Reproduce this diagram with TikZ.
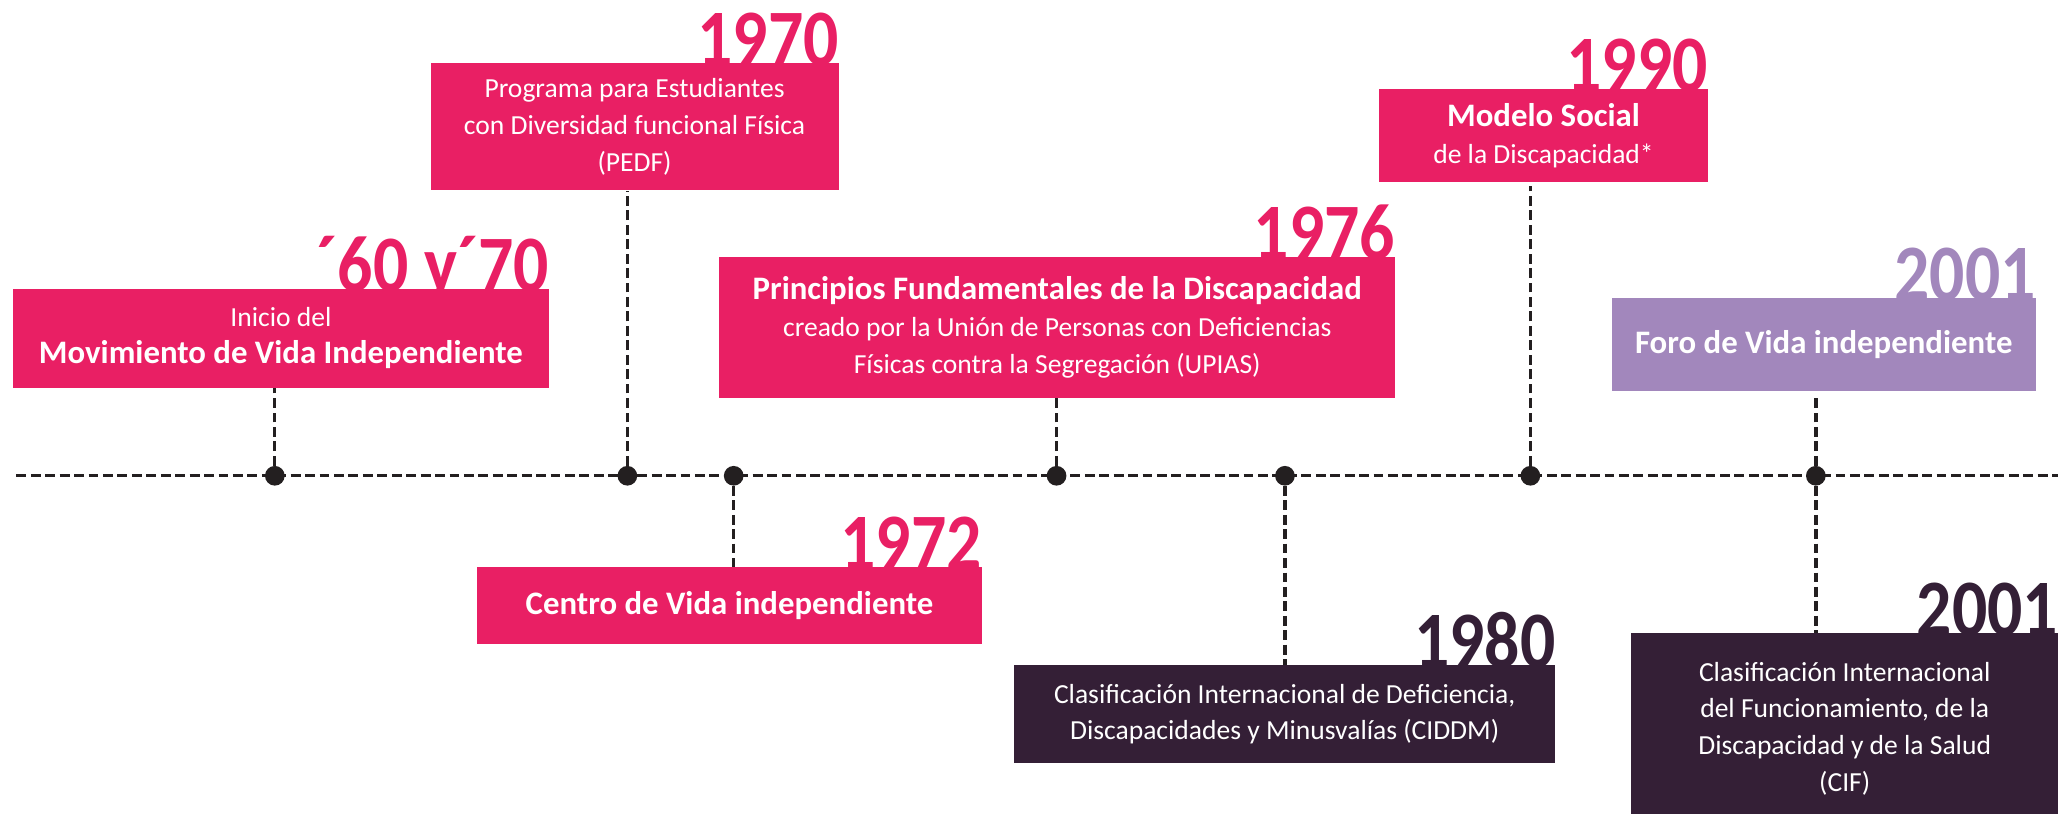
\documentclass[tikz,border=0pt]{standalone}
\usepackage{fontspec}
\setmainfont{Carlito}
\newfontfamily\fanio[FakeStretch=0.87]{Carlito}
\newcommand\tit[1]{{\fontsize{25}{28}\selectfont\bfseries #1}}
\definecolor{rosa}{HTML}{E91F64}
\definecolor{morado}{HTML}{341F36}
\definecolor{lila}{HTML}{A287BC}
\definecolor{linea}{HTML}{231F20}

\begin{document}
\begin{tikzpicture}[x=1pt,y=-1pt,
    caja/.style={fill=#1,text=white,inner sep=0pt,align=center,
      font=\fontsize{21}{28}\selectfont},
    anio/.style={text=#1,anchor=base east,inner sep=0pt,text depth=0pt,
      font=\fanio\fontsize{61}{61}\selectfont\bfseries},
    hito/.style={circle,fill=linea,inner sep=0pt,minimum size=15pt},
    guion/.style={draw=linea,line width=2.5pt,dash pattern=on 7.5pt off 3.5pt}]
    \useasboundingbox (0,0) rectangle (1568,620);
    \clip (0,0) rectangle (1568,620);
    \coordinate (ini) at (12.5,362.5);
    \coordinate (fin) at (1568,362.5);
    \draw[guion] (ini) -- (fin);

    \node[caja=rosa,minimum width=408,minimum height=75.5] (b60) at (214,257.8)
       {Inicio del\\ \tit{Movimiento de Vida Independiente}};
    \node[caja=rosa,minimum width=311,minimum height=97] (b70) at (483.5,96.5)
       {Programa para Estudiantes\\ con Diversidad funcional Física\\ (PEDF)};
    \node[caja=rosa,minimum width=384.5,minimum height=58.6] (b72) at (555.8,461.3)
       {\tit{Centro de Vida independiente}};
    \node[caja=rosa,minimum width=515,minimum height=107] (b76) at (805.5,249.5)
       {\tit{Principios Fundamentales de la Discapacidad}\\
        creado por la Unión de Personas con Deficiencias\\
        Físicas contra la Segregación (UPIAS)};
    \node[caja=morado,minimum width=412.5,minimum height=75] (b80) at (978.8,544.1)
       {Clasificación Internacional de Deficiencia,\\
        Discapacidades y Minusvalías (CIDDM)};
    \node[caja=rosa,minimum width=250,minimum height=70.4] (b90) at (1176,103.2)
       {\tit{Modelo Social}\\ de la Discapacidad*};
    \node[caja=lila,minimum width=323,minimum height=71] (b01a) at (1389.5,262.5)
       {\tit{Foro de Vida independiente}};
    \node[caja=morado,minimum width=325,minimum height=146] (b01b) at (1405.5,555.2)
       {Clasificación Internacional\\ del Funcionamiento, de la\\
        Discapacidad y de la Salud\\ (CIF)};

    \node[anio=rosa] (a60) at ([yshift=-2pt]b60.north east) {´60 y´70};
    \node[anio=rosa] (a70) at ([yshift=-2pt]b70.north east) {1970};
    \node[anio=rosa] (a72) at ([yshift=-2pt]b72.north east) {1972};
    \node[anio=rosa] (a76) at ([yshift=-2pt]b76.north east) {1976};
    \node[anio=morado] (a80) at ([yshift=-2pt]b80.north east) {1980};
    \node[anio=rosa] (a90) at ([yshift=-2pt]b90.north east) {1990};
    \node[anio=lila] (a01a) at ([yshift=-2pt]b01a.north east) {2001};
    \node[anio=morado] (a01b) at ([yshift=-2pt]b01b.north east) {2001};

    \node[hito] (h60) at (209.4,362.5) {};
    \node[hito] (h70) at (478,362.5) {};
    \node[hito] (h72) at (559,362.5) {};
    \node[hito] (h76) at (805,362.5) {};
    \node[hito] (h80) at (979,362.5) {};
    \node[hito] (h90) at (1166,362.5) {};
    \node[hito] (h01) at (1383.5,362.5) {};

    \draw[guion] (h60) -- (h60 |- b60.south);
    \draw[guion] (h70) -- (h70 |- b70.south);
    \draw[guion] (h72) -- (h72 |- b72.north);
    \draw[guion] (h76) -- (h76 |- b76.south);
    \draw[guion] (h80) -- (h80 |- b80.north);
    \draw[guion] (h90) -- ([yshift=-3pt]h90 |- b90.south);
    \draw[guion] (h01) -- ([yshift=-3pt]h01 |- b01a.south);
    \draw[guion] (h01) -- (h01 |- b01b.north);
\end{tikzpicture}
\end{document}
